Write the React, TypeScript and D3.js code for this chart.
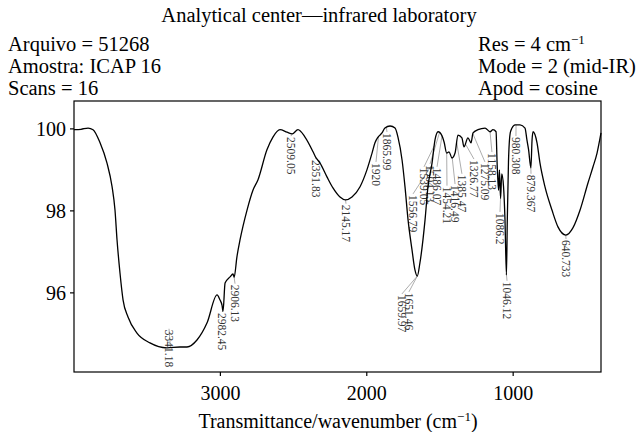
import React from "react";
import * as d3 from "d3";

// ---- spectrum data (wavenumber cm-1, transmittance %) ----
const wavenumbers = [4000, 3952, 3904, 3870, 3822, 3775, 3740, 3720, 3706, 3686, 3665, 3631, 3570, 3481, 3365, 3276, 3228, 3160, 3091, 3023, 3003, 2989, 2982, 2968, 2934, 2914, 2906, 2887, 2866, 2818, 2777, 2743, 2682, 2641, 2593, 2545, 2509, 2470, 2422, 2367, 2351, 2320, 2272, 2231, 2183, 2145, 2101, 2046, 1999, 1964, 1944, 1923, 1896, 1876, 1841, 1807, 1787, 1759, 1739, 1718, 1691, 1671, 1655, 1637, 1602, 1582, 1554, 1534, 1513, 1486, 1472, 1454, 1438, 1418, 1397, 1377, 1350, 1336, 1309, 1288, 1274, 1240, 1192, 1158, 1138, 1117, 1110, 1100, 1094, 1086, 1078, 1066, 1056, 1046, 1040, 1032, 1020, 1008, 987, 953, 919, 906, 895, 879, 871, 864, 837, 817, 783, 735, 694, 640, 591, 543, 489, 455, 427, 400];
const transmittance = [99.98, 99.99, 100.02, 99.98, 99.66, 99.17, 98.59, 98.02, 97.29, 96.49, 95.83, 95.41, 95.02, 94.78, 94.66, 94.68, 94.68, 94.85, 95.27, 95.95, 95.83, 95.7, 95.55, 96.24, 96.39, 96.46, 96.38, 96.88, 97.29, 98.02, 98.51, 98.76, 99.49, 99.8, 99.98, 99.92, 99.88, 99.98, 99.8, 99.44, 99.32, 99.17, 98.83, 98.56, 98.34, 98.27, 98.34, 98.59, 99.0, 99.41, 99.66, 99.8, 99.9, 100.02, 100.07, 100.02, 99.8, 99.24, 98.59, 97.78, 97.05, 96.56, 96.41, 96.73, 97.78, 98.59, 99.17, 99.73, 99.93, 99.83, 99.68, 99.41, 99.44, 99.29, 99.41, 99.85, 99.78, 99.56, 99.78, 99.66, 99.9, 99.98, 100.02, 99.93, 99.98, 99.93, 99.2, 98.5, 99.0, 98.3, 98.9, 98.6, 97.8, 96.44, 97.8, 99.2, 99.9, 100.02, 100.1, 100.1, 100.02, 99.73, 99.5, 99.05, 99.73, 99.93, 99.66, 99.17, 98.59, 98.02, 97.61, 97.41, 97.59, 98.02, 98.68, 99.07, 99.41, 99.9];

// ---- peak annotations ----
const peakText = ["3341.18", "2982.45", "2906.13", "2509.05", "2351.83", "2145.17", "1920", "1865.99", "1659.97", "1651.46", "1556.79", "1539.05", "1504.13", "1486.07", "1454.21", "1416.49", "1385.47", "1326.77", "1275.09", "1158.13", "1086.2", "1046.12", "980.308", "879.367", "640.733"];
const peakWn = [3341.18, 2982.45, 2906.13, 2509.05, 2351.83, 2145.17, 1920, 1865.99, 1655, 1655, 1556.79, 1539.05, 1504.13, 1486.07, 1454.21, 1416.49, 1385.47, 1326.77, 1275.09, 1158.13, 1086.2, 1046.12, 980.308, 879.367, 640.733];
const labelWn = [3351, 2989, 2900, 2518, 2347, 2142, 1937, 1862, 1760, 1712, 1684, 1609, 1568, 1520, 1452, 1397, 1350, 1268, 1193, 1145, 1090, 1042, 981, 878, 639];
const labelT = [95.1, 95.51, 96.2, 99.8, 99.24, 98.15, 99.17, 99.9, 95.95, 96.0, 98.39, 99.05, 99.12, 99.05, 98.59, 98.63, 98.88, 99.24, 99.17, 99.41, 97.95, 96.27, 99.8, 98.88, 97.29];

// ---- axes ----
const xDomain = [4000, 400];
const yDomain = [94.07, 100.68];
const xTicks = [3000, 2000, 1000];
const yTicks = [100, 98, 96];

const leftHeader = ["Arquivo = 51268", "Amostra: ICAP 16", "Scans = 16"];
const title = "Analytical center\u2014infrared laboratory";

const W = 642, H = 432;
const m = { left: 74, right: 601, top: 101, bottom: 372 };
const FONT = "'Liberation Serif', 'Times New Roman', serif";
const HF = 20.5;

export default function App() {
  const x = d3.scaleLinear().domain(xDomain).range([m.left, m.right]);
  const y = d3.scaleLinear().domain(yDomain).range([m.bottom, m.top]);
  const pts = wavenumbers.map((w, i) => [w, transmittance[i]] as [number, number]);
  const path = d3.line<[number, number]>().x(d => x(d[0])).y(d => y(d[1])).curve(d3.curveMonotoneX)(pts) || "";

  // interpolate curve at a wavenumber
  const asc = pts.slice().reverse();
  const bis = d3.bisector((d: [number, number]) => d[0]).left;
  const interp = (w: number) => {
    const i = Math.max(1, Math.min(asc.length - 1, bis(asc, w)));
    const a = asc[i - 1], b = asc[i];
    const t = (w - a[0]) / (b[0] - a[0]);
    return a[1] + t * (b[1] - a[1]);
  };

  return (
    <svg width={W} height={H} style={{ position: "absolute", left: 0, top: 0, background: "#fff" }} fontFamily={FONT}>
      <text x={319} y={22} fontSize={HF} textAnchor="middle">{title}</text>
      {leftHeader.map((t, i) => (
        <text key={t} x={8} y={51 + i * 22} fontSize={HF}>{t}</text>
      ))}
      <text x={478} y={51} fontSize={HF}>Res = 4 cm<tspan dy={-7} fontSize={13}>{"\u22121"}</tspan></text>
      <text x={478} y={73} fontSize={HF}>Mode = 2 (mid-IR)</text>
      <text x={478} y={95} fontSize={HF}>Apod = cosine</text>

      {/* frame */}
      <rect x={m.left} y={m.top} width={m.right - m.left} height={m.bottom - m.top} fill="none" stroke="#000" strokeWidth={1.2} />
      {yTicks.map(t => (
        <g key={t}>
          <line x1={m.left - 4} x2={m.left} y1={y(t)} y2={y(t)} stroke="#000" strokeWidth={1.2} />
          <text x={m.left - 8} y={y(t)} dy="0.35em" fontSize={20} textAnchor="end">{t}</text>
        </g>
      ))}
      {xTicks.map(t => (
        <g key={t}>
          <line x1={x(t)} x2={x(t)} y1={m.bottom} y2={m.bottom + 4} stroke="#000" strokeWidth={1.2} />
          <text x={x(t)} y={400} fontSize={20} textAnchor="middle">{t}</text>
        </g>
      ))}
      <text x={338} y={428} fontSize={20} textAnchor="middle">
        Transmittance/wavenumber (cm<tspan dy={-7} fontSize={13}>{"\u22121"}</tspan><tspan dy={7}>)</tspan>
      </text>

      {/* peak leaders + labels */}
      {peakText.map((t, i) => {
        const px = x(peakWn[i]), py = y(interp(peakWn[i]));
        const lx = x(labelWn[i]), ly = y(labelT[i]);
        return (
          <g key={t}>
            <line x1={px} y1={py} x2={lx} y2={ly - 1} stroke="#8a8a8a" strokeWidth={0.7} />
            <text x={lx} y={ly} dy="0.35em" transform={`rotate(90 ${lx} ${ly})`} fontSize={11.5} fill="#333">{t}</text>
          </g>
        );
      })}

      <path d={path} fill="none" stroke="#000" strokeWidth={1.3} />
    </svg>
  );
}
